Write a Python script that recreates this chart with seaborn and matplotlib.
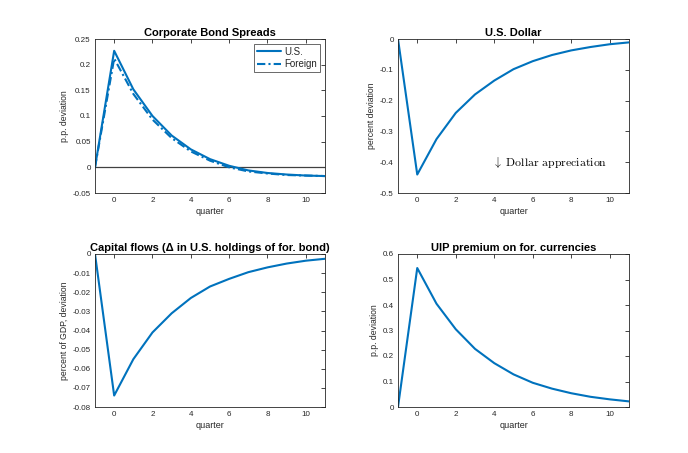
import numpy as np
import pandas as pd
import matplotlib
matplotlib.use("Agg")
import matplotlib.pyplot as plt
import seaborn as sns
from matplotlib.ticker import FuncFormatter

quarters = [-1, 0, 1, 2, 3, 4, 5, 6, 7, 8, 9, 10, 11]
spread_us = [0, 0.227, 0.152, 0.100, 0.062, 0.035, 0.016, 0.003, -0.006, -0.011, -0.014, -0.016, -0.017]
spread_foreign = [0, 0.212, 0.143, 0.093, 0.057, 0.031, 0.013, 0.000, -0.008, -0.012, -0.015, -0.016, -0.017]
dollar = [0, -0.44, -0.325, -0.240, -0.180, -0.135, -0.098, -0.072, -0.052, -0.037, -0.026, -0.017, -0.011]
capital_flows = [0, -0.074, -0.055, -0.041, -0.031, -0.023, -0.017, -0.013, -0.0095, -0.007, -0.005, -0.0035, -0.0025]
uip = [0, 0.545, 0.405, 0.305, 0.228, 0.172, 0.128, 0.095, 0.072, 0.054, 0.040, 0.030, 0.022]

sns.set_style("white")
plt.rcParams["font.family"] = ["Liberation Sans", "DejaVu Sans"]
plt.rcParams["axes.unicode_minus"] = False
plt.rcParams["mathtext.fontset"] = "cm"

BLUE = "#0072BD"
GRAY = "#262626"

fig = plt.figure(figsize=(6.88, 4.53), dpi=100)
W, H = 688.0, 453.0

def make_ax(l, r, t, b):
    return fig.add_axes([l / W, 1 - b / H, (r - l) / W, (b - t) / H])

ax1 = make_ax(95, 325, 39, 193)
ax2 = make_ax(398, 629, 39, 193)
ax3 = make_ax(95, 325, 254, 407)
ax4 = make_ax(398, 629, 254, 407)

fmt = FuncFormatter(lambda v, p: "%g" % round(v, 6))

def style(ax, title, ylabel, ylim, yticks):
    ax.set_xlim(-1, 11)
    ax.set_ylim(*ylim)
    ax.set_xticks([0, 2, 4, 6, 8, 10])
    ax.set_yticks(yticks)
    ax.yaxis.set_major_formatter(fmt)
    ax.tick_params(direction="in", length=3, width=0.6, labelsize=5.8, colors=GRAY,
                   top=True, right=True, pad=3)
    for s in ax.spines.values():
        s.set_linewidth(0.6)
        s.set_color(GRAY)
        s.set_visible(True)
    ax.set_title(title, fontsize=8, fontweight="bold", color="black", pad=2)
    ax.set_xlabel("quarter", fontsize=6.5, color=GRAY, labelpad=2)
    ax.set_ylabel(ylabel, fontsize=6.2, color=GRAY, labelpad=3)
    leg = ax.get_legend()
    if leg is not None and ax is not ax1:
        leg.remove()

df1 = pd.DataFrame({"quarter": quarters * 2,
                    "value": spread_us + spread_foreign,
                    "series": ["U.S."] * len(quarters) + ["Foreign"] * len(quarters)})
sns.lineplot(data=df1, x="quarter", y="value", hue="series", style="series",
             palette=[BLUE, BLUE], dashes=[(None, None), (4, 1.5, 1, 1.5)],
             linewidth=1.5, ax=ax1, legend=True)
ax1.axhline(0, color="#404040", linewidth=0.9, zorder=1)
style(ax1, "Corporate Bond Spreads", "p.p. deviation", (-0.05, 0.25),
      [-0.05, 0, 0.05, 0.1, 0.15, 0.2, 0.25])
h, l = ax1.get_legend_handles_labels()
leg = ax1.legend(h, l, loc="upper right", fontsize=7, frameon=True, fancybox=False,
                 edgecolor=GRAY, handlelength=2.4, borderpad=0.3, labelspacing=0.25,
                 handletextpad=0.4, borderaxespad=0.5)
leg.get_frame().set_linewidth(0.6)

sns.lineplot(x=quarters, y=dollar, color=BLUE, linewidth=1.5, ax=ax2)
style(ax2, "U.S. Dollar", "percent deviation", (-0.5, 0),
      [-0.5, -0.4, -0.3, -0.2, -0.1, 0])
ax2.text(3.9, -0.4, r"$\downarrow$ Dollar appreciation", fontsize=8.5,
         family=["cmr10"], color="black", va="center", ha="left")

sns.lineplot(x=quarters, y=capital_flows, color=BLUE, linewidth=1.5, ax=ax3)
style(ax3, "Capital flows (\u0394 in U.S. holdings of for. bond)",
      "percent of GDP, deviation", (-0.08, 0),
      [-0.08, -0.07, -0.06, -0.05, -0.04, -0.03, -0.02, -0.01, 0])

sns.lineplot(x=quarters, y=uip, color=BLUE, linewidth=1.5, ax=ax4)
style(ax4, "UIP premium on for. currencies", "p.p. deviation", (0, 0.6),
      [0, 0.1, 0.2, 0.3, 0.4, 0.5, 0.6])

fig.savefig("out.png", dpi=100, facecolor="white")
